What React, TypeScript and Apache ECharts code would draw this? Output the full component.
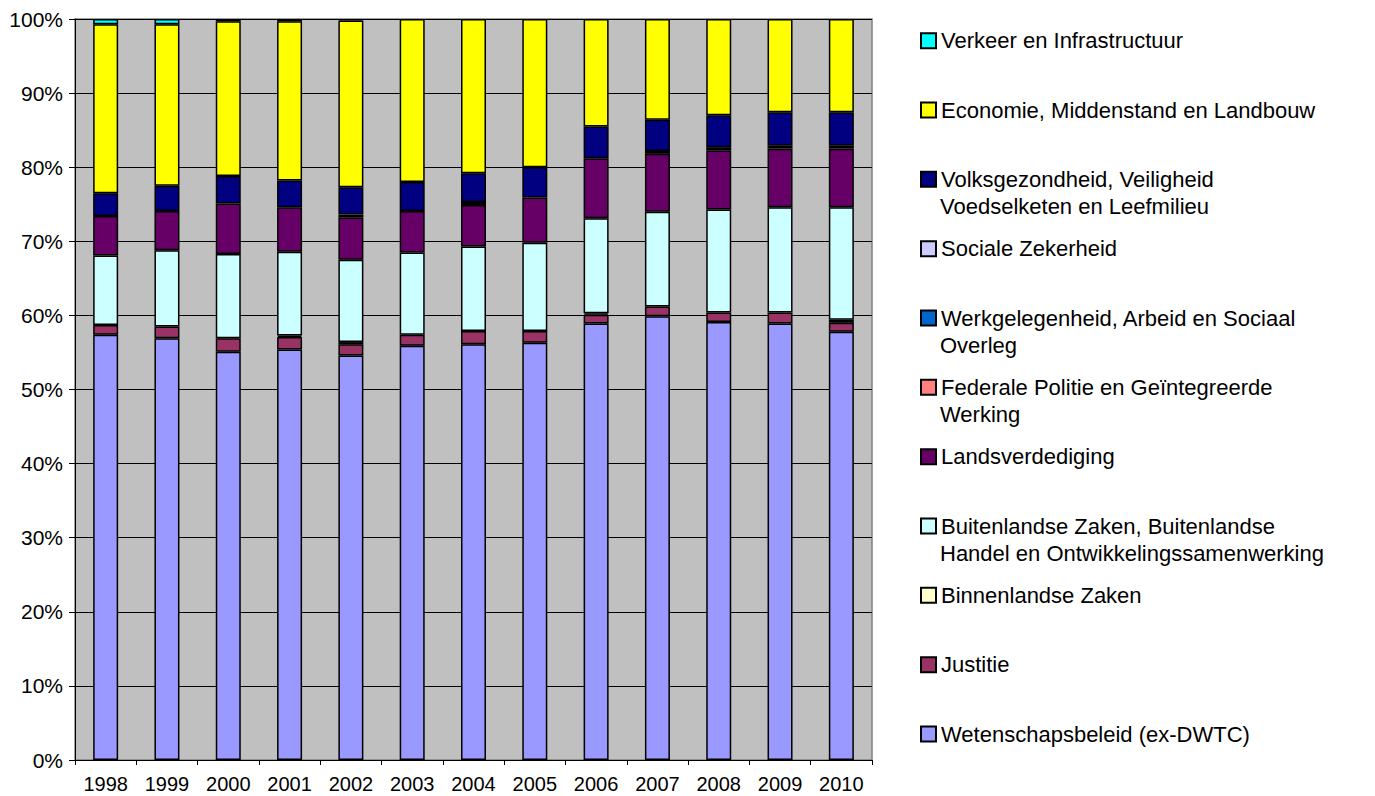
import React, { useEffect, useRef } from "react";
import * as echarts from "echarts";

const years = ["1998", "1999", "2000", "2001", "2002", "2003", "2004", "2005", "2006", "2007", "2008", "2009", "2010"];
const yTicks = [0, 10, 20, 30, 40, 50, 60, 70, 80, 90, 100];

const wetenschap = [57.4, 56.9, 55.1, 55.4, 54.6, 55.9, 56.1, 56.3, 58.9, 59.9, 59.1, 58.9, 57.8];
const justitie = [1.3, 1.6, 1.8, 1.7, 1.5, 1.5, 1.8, 1.6, 1.2, 1.3, 1.3, 1.5, 1.2];
const binnenlandse = [0, 0, 0, 0.2, 0.3, 0, 0, 0, 0.2, 0, 0, 0, 0.4];
const buitenlandse = [9.4, 10.3, 11.4, 11.3, 11.1, 11.1, 11.4, 11.9, 12.8, 12.8, 13.9, 14.2, 15.2];
const landsverdediging = [5.3, 5.3, 6.8, 6.0, 5.7, 5.6, 5.6, 6.1, 8.1, 7.8, 8.0, 7.9, 7.9];
const federale = [0, 0, 0, 0, 0, 0, 0, 0, 0, 0, 0, 0, 0];
const werkgelegenheid = [0, 0, 0, 0, 0, 0, 0, 0, 0, 0, 0, 0, 0];
const sociale = [0, 0, 0, 0, 0.4, 0, 0.4, 0, 0, 0.4, 0.4, 0.4, 0.4];
const volksgezondheid = [3.1, 3.4, 3.7, 3.6, 3.7, 3.9, 3.9, 4.1, 4.3, 4.2, 4.3, 4.5, 4.5];
const economie = [22.8, 21.8, 20.9, 21.5, 22.5, 22.0, 20.8, 20.0, 14.5, 13.6, 13.0, 12.6, 12.6];
const verkeer = [0.7, 0.7, 0.3, 0.3, 0.2, 0, 0, 0, 0, 0, 0, 0, 0];

// bottom to top stacking order
const seriesDefs = [
  { name: "Wetenschapsbeleid (ex-DWTC)", first: "Wetenschapsbeleid (ex-DWTC)", second: "", data: wetenschap, color: "#9999FF" },
  { name: "Justitie", first: "Justitie", second: "", data: justitie, color: "#993366" },
  { name: "Binnenlandse Zaken", first: "Binnenlandse Zaken", second: "", data: binnenlandse, color: "#FFFFCC" },
  { name: "Buitenlandse Zaken, Buitenlandse Handel en Ontwikkelingssamenwerking", first: "Buitenlandse Zaken, Buitenlandse", second: "Handel en Ontwikkelingssamenwerking", data: buitenlandse, color: "#CCFFFF" },
  { name: "Landsverdediging", first: "Landsverdediging", second: "", data: landsverdediging, color: "#660066" },
  { name: "Federale Politie en Geïntegreerde Werking", first: "Federale Politie en Geïntegreerde", second: "Werking", data: federale, color: "#FF8080" },
  { name: "Werkgelegenheid, Arbeid en Sociaal Overleg", first: "Werkgelegenheid, Arbeid en Sociaal", second: "Overleg", data: werkgelegenheid, color: "#0066CC" },
  { name: "Sociale Zekerheid", first: "Sociale Zekerheid", second: "", data: sociale, color: "#CCCCFF" },
  { name: "Volksgezondheid, Veiligheid Voedselketen en Leefmilieu", first: "Volksgezondheid, Veiligheid", second: "Voedselketen en Leefmilieu", data: volksgezondheid, color: "#000080" },
  { name: "Economie, Middenstand en Landbouw", first: "Economie, Middenstand en Landbouw", second: "", data: economie, color: "#FFFF00" },
  { name: "Verkeer en Infrastructuur", first: "Verkeer en Infrastructuur", second: "", data: verkeer, color: "#00FFFF" },
];

const FONT = "'Liberation Sans', Arial, Helvetica, sans-serif";
const LEGEND_FS = 22;

export default function App() {
  const ref = useRef<HTMLDivElement>(null);
  useEffect(() => {
    if (!ref.current) return;
    const chart = echarts.init(ref.current, null, { renderer: "svg" });
    const legendOrder = [...seriesDefs].reverse();
    const legendLeft = 920;
    const firstIconCenter = 40.7;
    const step = 69.33;
    const iconSize = 15;
    const itemH = LEGEND_FS;
    const firstLineMap: Record<string, string> = {};
    seriesDefs.forEach((s) => (firstLineMap[s.name] = s.first));
    const secondLines: any[] = [];
    legendOrder.forEach((s, i) => {
      if (s.second) {
        secondLines.push({
          type: "text",
          x: legendLeft + iconSize + 5,
          y: firstIconCenter + i * step + 27.5,
          style: {
            text: s.second,
            font: `${LEGEND_FS}px ${FONT}`,
            fill: "#000",
            verticalAlign: "middle",
            align: "left",
          },
        });
      }
    });
    chart.setOption({
      animation: false,
      backgroundColor: "#FFFFFF",
      textStyle: { fontFamily: FONT },
      grid: {
        left: 75,
        right: 503,
        top: 19,
        bottom: 36,
        show: true,
        backgroundColor: "#C0C0C0",
        borderColor: "#808080",
        borderWidth: 1.5,
      },
      legend: {
        orient: "vertical",
        left: legendLeft,
        top: firstIconCenter - itemH / 2,
        padding: 0,
        icon: "rect",
        itemWidth: iconSize,
        itemHeight: iconSize,
        itemGap: step - itemH,
        data: legendOrder.map((s) => s.name),
        formatter: (name: string) => firstLineMap[name] || name,
        textStyle: { fontSize: LEGEND_FS, fontFamily: FONT, color: "#000" },
        selectedMode: false,
      },
      xAxis: {
        type: "category",
        data: years,
        axisLine: { lineStyle: { color: "#000", width: 1 } },
        axisTick: { show: true, length: 5, lineStyle: { color: "#000" } },
        axisLabel: { color: "#000", fontSize: 20, fontFamily: FONT, margin: 14 },
      },
      yAxis: {
        type: "value",
        min: 0,
        max: 100,
        interval: 10,
        axisLine: { show: true, lineStyle: { color: "#000", width: 1 } },
        axisTick: { show: true, length: 6, lineStyle: { color: "#000" } },
        axisLabel: {
          color: "#000",
          fontSize: 21,
          fontFamily: FONT,
          margin: 12,
          formatter: (v: number) => (yTicks.includes(v) ? `${v}%` : ""),
        },
        splitLine: { show: true, lineStyle: { color: "#000", width: 1 } },
      },
      series: seriesDefs.map((s) => ({
        name: s.name,
        type: "bar",
        stack: "total",
        barWidth: 25,
        data: s.data.map((v) => (v === 0 ? "-" : v)),
        itemStyle: { color: s.color, borderColor: "#000", borderWidth: 1.5 },
        emphasis: { disabled: true },
      })),
      graphic: secondLines,
    });
    return () => chart.dispose();
  }, []);
  return (
    <div
      ref={ref}
      style={{ position: "fixed", left: 0, top: 0, width: 1375, height: 796 }}
    />
  );
}
